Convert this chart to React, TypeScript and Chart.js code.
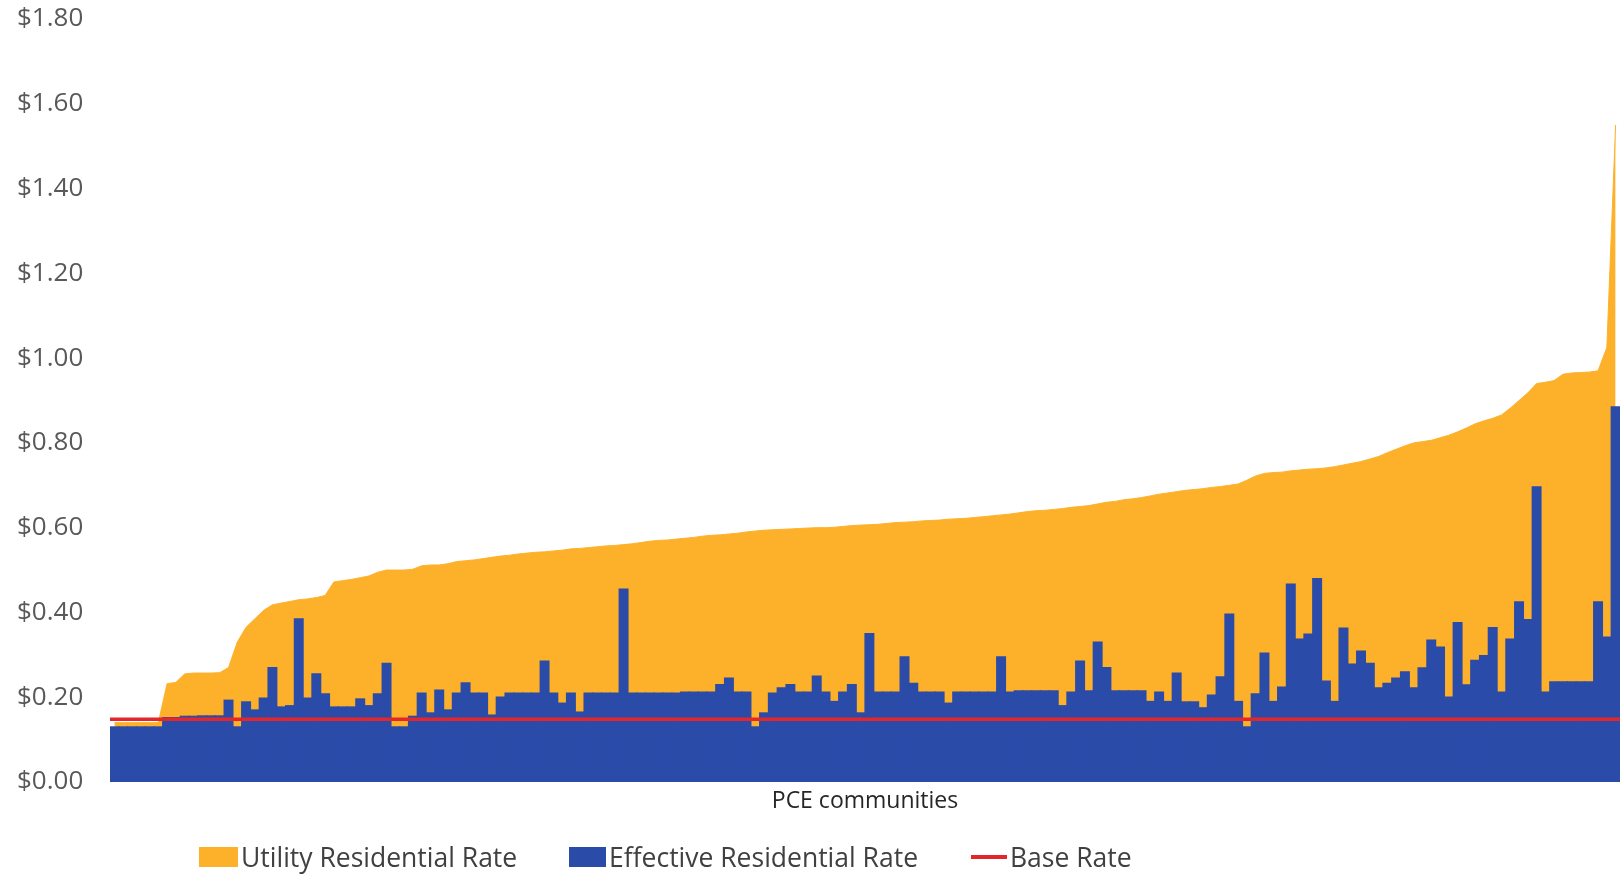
import React, { useEffect, useRef } from "react";
import { Chart, registerables } from "chart.js";

Chart.register(...registerables);

// ---------- DATA ----------
const UTILITY_RATE: number[] = [
  0.14, 0.14, 0.14, 0.14, 0.14, 0.14, 0.232, 0.235, 0.255, 0.257,
  0.257, 0.257, 0.258, 0.27, 0.33, 0.365, 0.385, 0.405, 0.418, 0.422,
  0.426, 0.43, 0.432, 0.435, 0.44, 0.472, 0.475, 0.478, 0.482, 0.486,
  0.495, 0.5, 0.5, 0.5, 0.502, 0.51, 0.512, 0.512, 0.515, 0.52,
  0.522, 0.524, 0.527, 0.53, 0.533, 0.535, 0.538, 0.54, 0.542, 0.543,
  0.545, 0.547, 0.55, 0.551, 0.553, 0.555, 0.557, 0.558, 0.56, 0.562,
  0.565, 0.568, 0.57, 0.571, 0.573, 0.575, 0.577, 0.58, 0.582, 0.583,
  0.585, 0.587, 0.59, 0.592, 0.594, 0.595, 0.596, 0.597, 0.598, 0.599,
  0.6, 0.6, 0.601, 0.603, 0.605, 0.606, 0.607, 0.608, 0.61, 0.612,
  0.613, 0.614, 0.616, 0.617, 0.618, 0.62, 0.621, 0.622, 0.624, 0.626,
  0.628, 0.63, 0.632, 0.635, 0.638, 0.64, 0.641, 0.643, 0.645, 0.648,
  0.65, 0.652, 0.656, 0.66, 0.662, 0.666, 0.668, 0.671, 0.675, 0.679,
  0.682, 0.685, 0.688, 0.69, 0.692, 0.695, 0.697, 0.7, 0.703, 0.712,
  0.722, 0.728, 0.73, 0.731, 0.734, 0.736, 0.738, 0.739, 0.741, 0.744,
  0.748, 0.752, 0.756, 0.762, 0.768, 0.777, 0.785, 0.793, 0.8, 0.803,
  0.806, 0.812, 0.818, 0.826, 0.835, 0.845, 0.852, 0.858, 0.866, 0.882,
  0.9, 0.918, 0.94, 0.943, 0.947, 0.962, 0.965, 0.966, 0.967, 0.97,
  1.025, 1.55,
];

const EFFECTIVE_RATE: number[] = [
  0.13, 0.13, 0.13, 0.13, 0.13, 0.13, 0.152, 0.152, 0.155, 0.155,
  0.156, 0.156, 0.156, 0.193, 0.13, 0.189, 0.17, 0.198, 0.27, 0.177,
  0.18, 0.385, 0.198, 0.255, 0.208, 0.177, 0.177, 0.177, 0.196, 0.18,
  0.208, 0.28, 0.13, 0.13, 0.155, 0.21, 0.163, 0.217, 0.17, 0.21,
  0.234, 0.21, 0.21, 0.158, 0.2, 0.21, 0.21, 0.21, 0.21, 0.285,
  0.21, 0.186, 0.21, 0.165, 0.21, 0.21, 0.21, 0.21, 0.455, 0.21,
  0.21, 0.21, 0.21, 0.21, 0.21, 0.212, 0.212, 0.212, 0.212, 0.23,
  0.245, 0.212, 0.212, 0.13, 0.163, 0.21, 0.222, 0.23, 0.212, 0.212,
  0.25, 0.212, 0.19, 0.212, 0.23, 0.163, 0.35, 0.212, 0.212, 0.212,
  0.295, 0.233, 0.212, 0.212, 0.212, 0.186, 0.212, 0.212, 0.212, 0.212,
  0.212, 0.295, 0.212, 0.215, 0.215, 0.215, 0.215, 0.215, 0.18, 0.212,
  0.285, 0.215, 0.33, 0.27, 0.215, 0.215, 0.215, 0.215, 0.19, 0.212,
  0.19, 0.257, 0.189, 0.189, 0.175, 0.205, 0.248, 0.396, 0.19, 0.13,
  0.208, 0.304, 0.19, 0.224, 0.467, 0.337, 0.349, 0.48, 0.238, 0.19,
  0.363, 0.278, 0.309, 0.28, 0.222, 0.233, 0.245, 0.26, 0.222, 0.269,
  0.335, 0.318, 0.2, 0.376, 0.229, 0.287, 0.298, 0.364, 0.212, 0.337,
  0.425, 0.383, 0.696, 0.212, 0.236, 0.236, 0.236, 0.236, 0.236, 0.425,
  0.342, 0.885,
];

const BASE_RATE = 0.148;

const COMMUNITIES: string[] = UTILITY_RATE.map((_, i) => `Community ${i + 1}`);

const Y_MIN = 0;
const Y_MAX = 1.8;
const Y_STEP = 0.2;

const SERIES_NAMES = ["Utility Residential Rate", "Effective Residential Rate", "Base Rate"];
const X_TITLE = "PCE communities";

// ---------- STYLE ----------
const ORANGE = "#FDB12A";
const BLUE = "#2A4BA8";
const RED = "#E3262B";
const FONT = "'Open Sans', 'DejaVu Sans', sans-serif";

export default function App() {
  const canvasRef = useRef<HTMLCanvasElement | null>(null);

  useEffect(() => {
    let chart: Chart | null = null;
    let cancelled = false;

    const build = () => {
      if (cancelled || !canvasRef.current) return;
      chart = new Chart(canvasRef.current, {
        type: "bar",
        data: {
          labels: COMMUNITIES,
          datasets: [
            {
              type: "line",
              label: SERIES_NAMES[0],
              data: UTILITY_RATE,
              borderColor: ORANGE,
              backgroundColor: ORANGE,
              borderWidth: 1,
              pointRadius: 0,
              tension: 0,
              fill: "origin",
              order: 3,
              xAxisID: "x",
            } as any,
            {
              type: "bar",
              label: SERIES_NAMES[1],
              data: EFFECTIVE_RATE,
              backgroundColor: BLUE,
              borderWidth: 0,
              barPercentage: 1,
              categoryPercentage: 1,
              grouped: false,
              inflateAmount: 0.6,
              order: 2,
              xAxisID: "x",
            } as any,
            {
              type: "line",
              label: SERIES_NAMES[2],
              data: [
                { x: 0, y: BASE_RATE },
                { x: 1, y: BASE_RATE },
              ],
              borderColor: RED,
              borderWidth: 3.5,
              pointRadius: 0,
              fill: false,
              order: 1,
              xAxisID: "xBase",
            } as any,
          ],
        },
        options: {
          responsive: true,
          maintainAspectRatio: false,
          animation: false,
          datasets: {
            bar: { barPercentage: 1, categoryPercentage: 1 },
          } as any,
          layout: { padding: { top: 19, right: 0, bottom: 0, left: 17 } },
          plugins: {
            legend: { display: false },
            tooltip: { enabled: false },
          },
          scales: {
            x: {
              type: "category",
              offset: true,
              grid: { display: false, drawTicks: false },
              border: { display: false },
              ticks: { display: false, autoSkip: false },
              title: {
                display: true,
                text: X_TITLE,
                color: "#262626",
                font: { family: FONT, size: 23 },
                padding: { top: 0, bottom: 59 },
              },
              afterFit: (s: any) => {
                s.height = 92;
              },
            },
            xBase: {
              type: "linear",
              min: 0,
              max: 1,
              offset: false,
              display: false,
            },
            y: {
              min: Y_MIN,
              max: Y_MAX,
              grid: { display: false, drawTicks: false },
              border: { display: false },
              ticks: {
                stepSize: Y_STEP,
                padding: 0,
                crossAlign: "far",
                color: "#595959",
                font: { family: FONT, size: 26, lineHeight: 1.2 },
                callback: (v: any) => "$" + Number(v).toFixed(2),
              },
              afterFit: (s: any) => {
                s.width = 93;
              },
            },
          },
        },
      });
    };

    const fontsReady = (document as any).fonts
      ? Promise.all([
          (document as any).fonts.load(`26px 'Open Sans'`),
          (document as any).fonts.load(`23px 'Open Sans'`),
        ]).catch(() => null)
      : Promise.resolve(null);
    fontsReady.then(build);

    return () => {
      cancelled = true;
      if (chart) chart.destroy();
    };
  }, []);

  const legendText: React.CSSProperties = {
    position: "absolute",
    top: 857,
    transform: "translateY(-50%)",
    fontFamily: FONT,
    fontSize: 26.5,
    lineHeight: 1,
    color: "#404040",
    whiteSpace: "nowrap",
  };

  return (
    <div
      style={{
        position: "absolute",
        left: 0,
        top: 0,
        width: 1620,
        height: 874,
        background: "#ffffff",
        overflow: "hidden",
      }}
    >
      <canvas ref={canvasRef} style={{ display: "block" }} />
      <div style={{ position: "absolute", left: 199, top: 847, width: 39, height: 20, background: ORANGE }} />
      <div style={{ ...legendText, left: 241 }}>{SERIES_NAMES[0]}</div>
      <div style={{ position: "absolute", left: 569, top: 847, width: 37, height: 20, background: BLUE }} />
      <div style={{ ...legendText, left: 609 }}>{SERIES_NAMES[1]}</div>
      <div style={{ position: "absolute", left: 971, top: 855, width: 36, height: 4, background: RED }} />
      <div style={{ ...legendText, left: 1010 }}>{SERIES_NAMES[2]}</div>
    </div>
  );
}
